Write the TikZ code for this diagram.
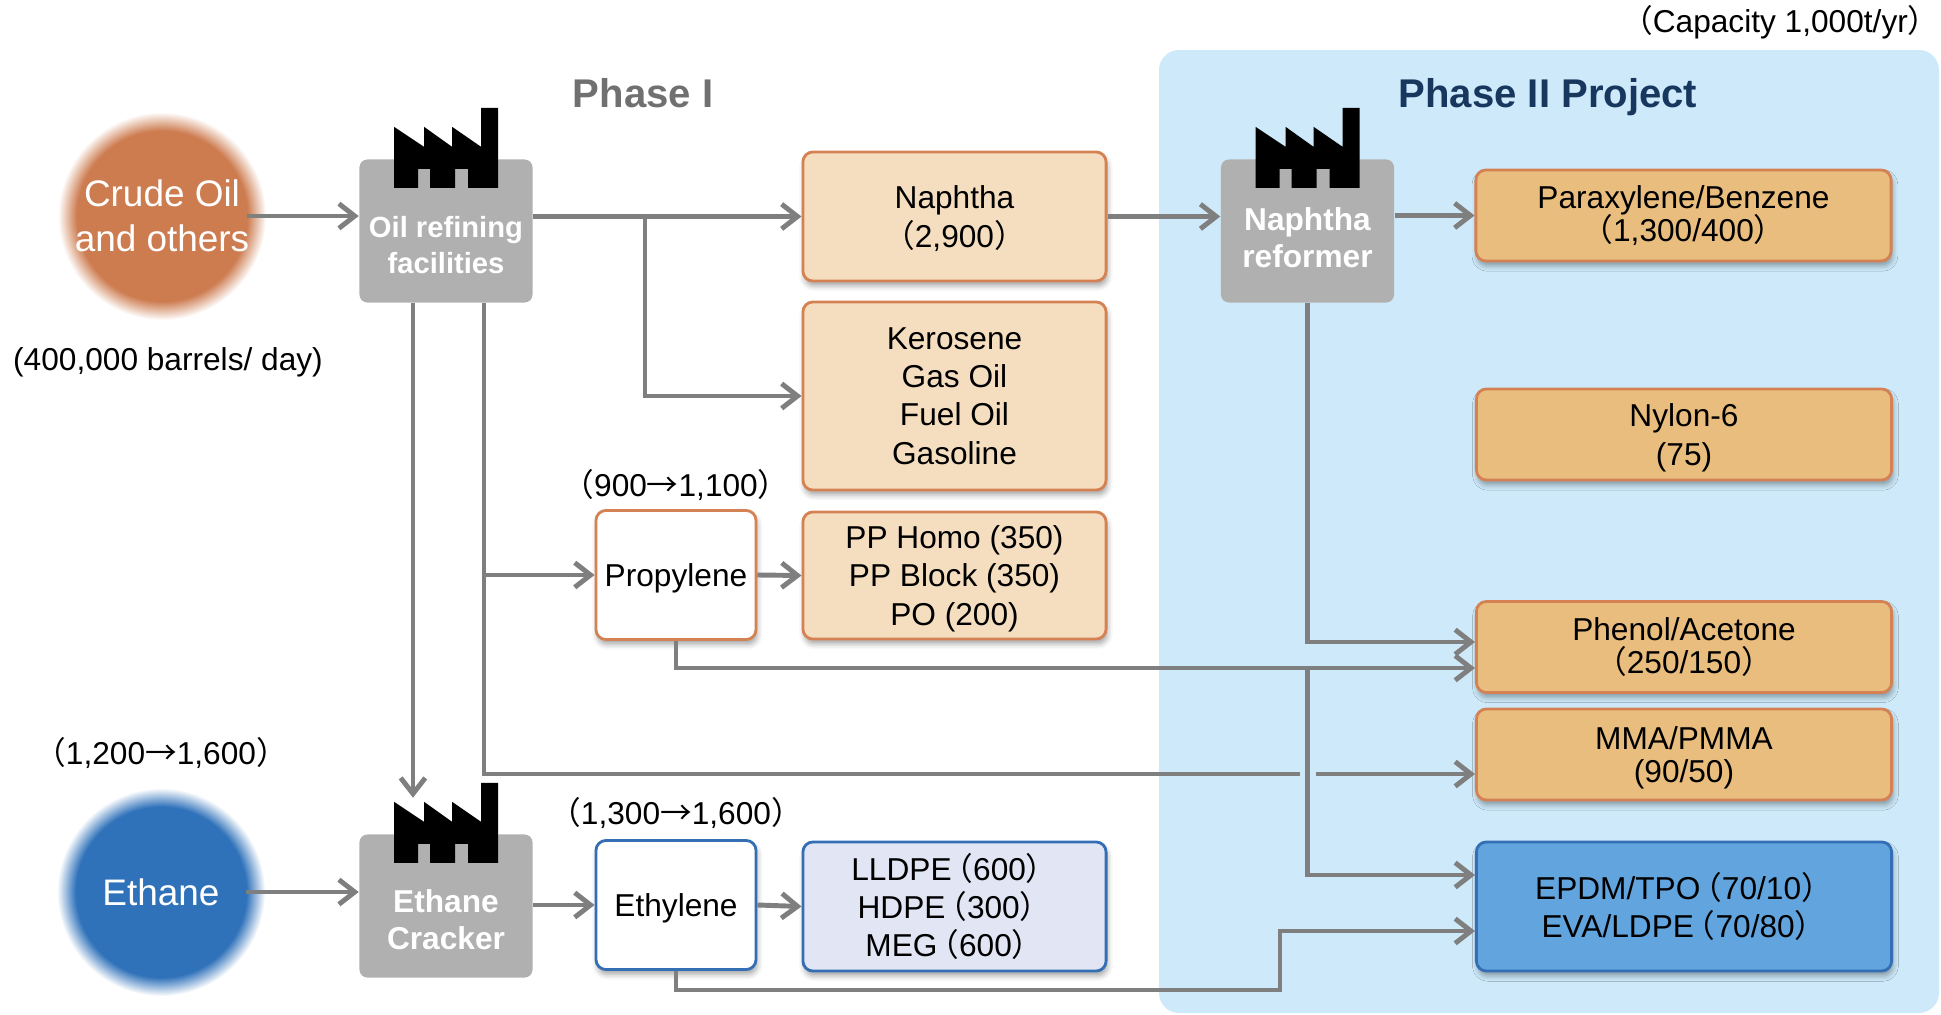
\documentclass[tikz,border=0pt]{standalone}
\usepackage{fontspec}
\setmainfont{Liberation Sans}
\newfontfamily\cjk{Noto Sans CJK JP}
\usetikzlibrary{arrows.meta,shadows.blur}
\definecolor{linegray}{RGB}{127,127,127}
\definecolor{plantgray}{RGB}{176,176,176}
\definecolor{crudeorange}{RGB}{205,124,80}
\definecolor{ethaneblue}{RGB}{48,114,186}
\definecolor{phasebg}{RGB}{206,234,250}
\definecolor{peachlight}{RGB}{245,222,192}
\definecolor{peachdark}{RGB}{232,189,126}
\definecolor{edgeorange}{RGB}{212,130,84}
\definecolor{edgeblue}{RGB}{52,110,180}
\definecolor{lavender}{RGB}{226,229,243}
\definecolor{epdmblue}{RGB}{98,164,222}
\definecolor{navy}{RGB}{23,55,94}
\definecolor{titlegray}{RGB}{112,112,112}
\pgfdeclareradialshading{crudeblur}{\pgfpoint{0bp}{0bp}}{color(0bp)=(crudeorange); color(20.5bp)=(crudeorange); color(25bp)=(white); color(50bp)=(white)}
\pgfdeclareradialshading{ethaneblur}{\pgfpoint{0bp}{0bp}}{color(0bp)=(ethaneblue); color(20.5bp)=(ethaneblue); color(25bp)=(white); color(50bp)=(white)}
\newcommand{\fwopen}{{\cjk （}}
\newcommand{\fwinner}{{\cjk\kern-0.32em（}}
\newcommand{\fwclose}{{\cjk ）}}
\newcommand{\fwarrow}{{\cjk →}}
\lineskiplimit=-5pt
\tikzset{
  flow/.style={draw=linegray, line width=1.4pt, -{Straight Barb[length=4.5pt,width=7pt]}},
  feed/.style={circle, shade, minimum size=2.08cm, inner sep=0pt, text=white, align=center, font=\fontsize{10.5}{12.8}\selectfont},
  plant/.style={fill=plantgray, rounded corners=0.08cm, minimum width=1.73cm, minimum height=1.43cm, inner sep=0pt},
  planttext/.style={text=white, align=center, font=\bfseries\fontsize{9}{10.6}\selectfont},
  prod/.style={rounded corners=0.1cm, line width=0.8pt, align=center, inner sep=0pt, font=\fontsize{9}{10.9}\selectfont,
    blur shadow={shadow xshift=0.4pt, shadow yshift=-1.4pt, shadow blur radius=1.5pt, shadow opacity=35}},
  fuelbox/.style={prod, draw=edgeorange, fill=peachlight, minimum width=3.03cm},
  chembox/.style={prod, draw=edgeorange, fill=peachdark, minimum width=4.15cm, minimum height=0.91cm},
  tight/.style={font=\fontsize{9}{9.3}\selectfont},
  low/.style={text depth=0pt},
  monobox/.style={prod, fill=white, minimum width=1.6cm, minimum height=1.29cm},
  note/.style={font=\fontsize{9}{10.9}\selectfont},
  phase/.style={font=\bfseries\fontsize{11.4}{13}\selectfont}
}
\begin{document}
\begin{tikzpicture}[x=0.01cm,y=-0.01cm]
\useasboundingbox (0,0) rectangle (1941,1015);
\fill[phasebg, rounded corners=0.2cm] (1159,50) rectangle (1939,1013);
\node[phase, text=titlegray] (phase1) at (643,93) {Phase I};
\node[phase, text=navy] (phase2) at (1548,97) {Phase II Project};
\node[note, anchor=east] (capacity) at (1952,22) {\fwopen Capacity 1,000t/yr\fwclose};
\node[feed, shading=crudeblur] (crude) at (162,216) {Crude Oil\\and others};
\node[feed, shading=ethaneblur] (ethane) at (161,892) {Ethane};
\node[note] (barrels) at (168,362) {(400,000 barrels/ day)};
\node[note] (ethanecap) at (161,753) {\fwopen 1,200\fwarrow 1,600\fwclose};
\node[plant] (refine) at (446,231) {};
\node[plant] (reform) at (1307.5,231) {};
\node[plant] (cracker) at (446,906) {};
\node[planttext, font=\bfseries\fontsize{8.3}{10}\selectfont] (refinetxt) at (446,245) {Oil refining\\facilities};
\node[planttext] (reformtxt) at (1307.5,238) {Naphtha\\reformer};
\node[planttext] (crackertxt) at (446,920) {Ethane\\Cracker};
\foreach \p in {refine,reform,cracker}{
  \begin{scope}[shift={(\p.north)}]
    \fill[black] (-52,29) -- (-52,-32) -- (-22,-12) -- (-22,-32) -- (6,-12) -- (6,-32) -- (35,-12) -- (35,-51) -- (52,-51) -- (52,29)
      -- (22,29) -- (22,10) -- (9,10) -- (9,29) -- (-16,29) -- (-16,10) -- (-28,10) -- (-28,29) -- cycle;
  \end{scope}
}
\node[fuelbox, low, minimum height=1.29cm] (naph) at (954.5,216.5) {Naphtha\\\fwopen 2,900\fwclose};
\node[fuelbox, minimum height=1.88cm] (kero) at (954.5,396) {Kerosene\\Gas Oil\\Fuel Oil\\Gasoline};
\node[fuelbox, low, minimum height=1.27cm] (pp) at (954.5,575.5) {PP Homo (350)\\PP Block (350)\\PO (200)};
\node[fuelbox, draw=edgeblue, fill=lavender, minimum height=1.29cm] (lldpe) at (954.5,906.5) {LLDPE\fwinner 600\fwclose\\HDPE\fwinner 300\fwclose\\MEG\fwinner 600\fwclose};
\node[monobox, low, draw=edgeorange] (prop) at (676,575) {Propylene};
\node[monobox, low, draw=edgeblue] (ethyl) at (676,905) {Ethylene};
\node[note] (propcap) at (676,485) {\fwopen 900\fwarrow 1,100\fwclose};
\node[note] (ethylcap) at (676,813) {\fwopen 1,300\fwarrow 1,600\fwclose};
\node[chembox, tight] (para) at (1683.5,215.5) {Paraxylene/Benzene\\\fwopen 1,300/400\fwclose};
\node[chembox, low] (nylon) at (1684,434.5) {Nylon-6\\(75)};
\node[chembox, tight] (phenol) at (1684,647) {Phenol/Acetone\\\fwopen 250/150\fwclose};
\node[chembox, tight, low] (mma) at (1684,754.5) {MMA/PMMA\\(90/50)};
\node[chembox, draw=edgeblue, fill=epdmblue, minimum height=1.29cm, font=\fontsize{9}{10.6}\selectfont] (epdm) at (1684,906.5) {EPDM/TPO\fwinner 70/10\fwclose\\EVA/LDPE\fwinner 70/80\fwclose};
\coordinate (split) at (645,216.5);
\coordinate (phenolA) at ([yshift=0.05cm]phenol.west);
\coordinate (phenolB) at ([yshift=-0.21cm]phenol.west);
\coordinate (mmain) at ([yshift=-0.195cm]mma.west);
\coordinate (epdmA) at ([yshift=0.315cm]epdm.west);
\coordinate (epdmB) at ([yshift=-0.245cm]epdm.west);
\coordinate (tap) at ([xshift=0.38cm]refine.south |- prop);
\draw[flow] ([xshift=-0.2cm]crude.east) -- (crude.east -| refine.west);
\draw[flow] (refine.east |- naph) -- (naph.west);
\draw[flow] (split) |- (kero.west);
\draw[flow] (naph.east) -- (naph.east -| reform.west);
\draw[flow] (reform.east |- para) -- (para.west);
\draw[flow] (reform.south) |- (phenolA);
\draw[flow, shorten >=0.36cm] ([xshift=-0.33cm]refine.south) -- ([xshift=-0.33cm]cracker.north);
\draw[flow] ([xshift=0.38cm]refine.south) |- (mmain);
\draw[flow] (tap) -- (prop.west);
\draw[flow] (prop.east) -- (pp.west);
\draw[flow] (prop.south) |- (phenolB);
\draw[draw=phasebg, line width=2.6pt] (1300,774) -- (1316,774);
\draw[flow] (reform.south |- phenolB) |- (epdmA);
\draw[flow] ([xshift=-0.2cm]ethane.east) -- (ethane.east -| cracker.west);
\draw[flow] (cracker.east |- ethyl) -- (ethyl.west);
\draw[flow] (ethyl.east) -- (lldpe.west);
\draw[flow] (ethyl.south) |- (1280,990) |- (epdmB);
\end{tikzpicture}
\end{document}
